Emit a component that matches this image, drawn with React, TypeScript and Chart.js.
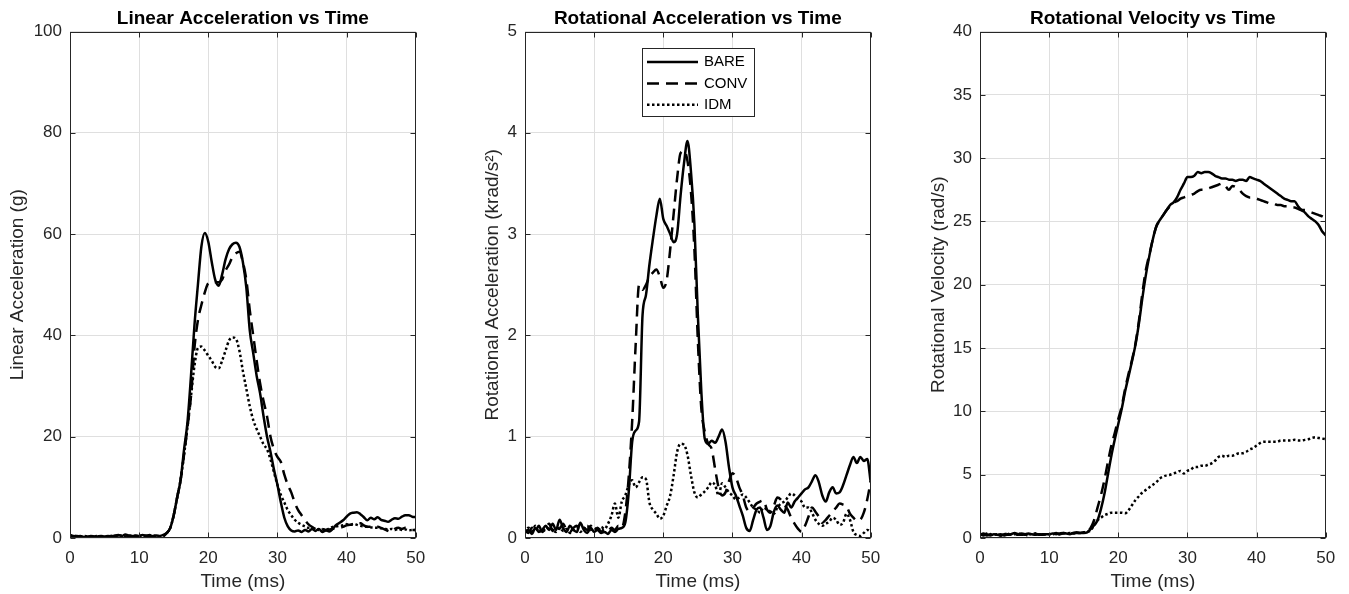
import React, { useEffect, useRef } from "react";
import { Chart, registerables } from "chart.js";

Chart.register(...registerables);

const FONT = '"Liberation Sans", Arial, Helvetica, sans-serif';
const AXIS_COLOR = "#262626";
const GRID_COLOR = "#dfdfdf";

// ---------- data ----------
const TIME = [
  0, 0.5, 1, 1.5, 2, 2.5, 3, 3.5, 4, 4.5,
  5, 5.5, 6, 6.5, 7, 7.5, 8, 8.5, 9, 9.5,
  10, 10.5, 11, 11.5, 12, 12.5, 13, 13.5, 14, 14.5,
  15, 15.5, 16, 16.5, 17, 17.5, 18, 18.5, 19, 19.5,
  20, 20.5, 21, 21.5, 22, 22.5, 23, 23.5, 24, 24.5,
  25, 25.5, 26, 26.5, 27, 27.5, 28, 28.5, 29, 29.5,
  30, 30.5, 31, 31.5, 32, 32.5, 33, 33.5, 34, 34.5,
  35, 35.5, 36, 36.5, 37, 37.5, 38, 38.5, 39, 39.5,
  40, 40.5, 41, 41.5, 42, 42.5, 43, 43.5, 44, 44.5,
  45, 45.5, 46, 46.5, 47, 47.5, 48, 48.5, 49, 49.5,
  50,
];

const SERIES_LABELS = ["BARE", "CONV", "IDM"];
const X_TICKS = [0, 10, 20, 30, 40, 50];

// Linear acceleration (g)
const LIN_BARE = [
  0.6, 0.4, 0.3, 0.4, 0.2, 0.3, 0.3, 0.2, 0.3, 0.4,
  0.3, 0.4, 0.3, 0.5, 0.6, 0.4, 0.7, 0.5, 0.3, 0.5,
  0.4, 0.6, 0.4, 0.6, 0.3, 0.5, 0.4, 0.6, 1.0, 2.0,
  4.5, 8, 11.5, 17.5, 23, 32, 42, 50, 57.5, 60.2,
  58.5, 54.5, 51, 49.8, 52, 55, 57, 58, 58.3, 57.5,
  54.5, 49.5, 41, 36.5, 32, 28.5, 24, 20, 17, 13.5,
  10.5, 7, 4, 2.3, 1.5, 1.3, 1.5, 1.2, 1.6, 1.3,
  1.8, 1.4, 1.8, 1.2, 1.5, 1.3, 1.8, 2.6, 3.0, 3.5,
  4.2, 4.8, 5.0, 5.1, 4.7, 4.1, 3.5, 4.0, 3.7, 4.1,
  3.6, 3.4, 3.2, 3.6, 3.9, 3.8, 4.2, 4.5, 4.5, 4.2,
  4.1,
];
const LIN_CONV = [
  0.5, 0.3, 0.4, 0.3, 0.3, 0.2, 0.4, 0.3, 0.2, 0.3,
  0.4, 0.3, 0.4, 0.3, 0.5, 0.3, 0.5, 0.4, 0.4, 0.3,
  0.5, 0.4, 0.5, 0.3, 0.4, 0.3, 0.5, 0.4, 1.0, 2.0,
  4.5, 8, 11.5, 16.5, 22, 28, 37.5, 43, 46, 48.5,
  50.3, 50.5, 50.5, 50.5, 51, 52.8, 54, 55.5, 56.2, 56.5,
  54.5, 51, 45, 40, 35, 30.5, 27, 24, 20, 17.5,
  16, 15, 12.5, 10.5, 9, 7, 5.5, 4.5, 3.5, 2.7,
  2.2, 1.8, 1.7, 1.8, 1.6, 1.7, 1.8, 1.9, 2.0, 2.2,
  2.5, 2.6, 2.6, 2.9, 2.9, 2.5, 2.2, 2.2, 2.0, 2.2,
  2.0, 1.7, 1.4, 1.2, 1.8, 2.0, 1.8, 2.0, 1.8, 1.6,
  1.6,
];
const LIN_IDM = [
  0.4, 0.5, 0.3, 0.2, 0.4, 0.3, 0.2, 0.3, 0.4, 0.3,
  0.2, 0.3, 0.4, 0.3, 0.4, 0.5, 0.3, 0.4, 0.5, 0.4,
  0.3, 0.5, 0.3, 0.4, 0.5, 0.4, 0.3, 0.5, 1.0, 2.0,
  4.5, 8, 11.5, 16.5, 22, 28, 34, 37.5, 37.8, 37,
  36, 35, 33.8, 33.5, 35, 37, 39, 39.6, 39.3, 37,
  33, 29.5, 26, 23.3, 21.5, 20, 18.5, 17.5, 15.5, 13,
  10.5, 8.5, 7, 5.5, 4.5, 3.6, 3.0, 2.6, 2.3, 2.0,
  2.0, 1.8, 1.6, 1.7, 1.6, 1.9, 2.2, 2.3, 2.4, 2.5,
  2.7, 2.6, 2.8, 2.6, 2.4, 2.3, 2.2, 2.1, 2.0, 2.0,
  1.9, 1.8, 1.7, 1.8, 1.6, 1.8, 1.6, 1.7, 1.5, 1.6,
  1.6,
];
const LIN_TICKS = [0, 20, 40, 60, 80, 100];

// Rotational acceleration (krad/s^2)
const ROT_BARE = [
  0.06, 0.08, 0.04, 0.1, 0.06, 0.08, 0.12, 0.08, 0.14, 0.08,
  0.18, 0.1, 0.06, 0.12, 0.08, 0.06, 0.15, 0.08, 0.05, 0.1,
  0.06, 0.08, 0.05, 0.06, 0.04, 0.08, 0.06, 0.09, 0.1, 0.15,
  0.45, 0.95, 1.06, 1.15, 2.2, 2.4, 2.7, 2.95, 3.18, 3.35,
  3.15, 3.08, 3.0, 2.92, 3.0, 3.38, 3.7, 3.92, 3.62, 3.1,
  2.2, 1.45, 0.98, 0.93, 0.96, 0.94, 1.0, 1.07, 0.95, 0.7,
  0.5, 0.42, 0.32, 0.22, 0.1, 0.07, 0.18, 0.28, 0.3, 0.2,
  0.08, 0.12, 0.26, 0.32, 0.28, 0.25, 0.35, 0.3, 0.36, 0.4,
  0.44, 0.48, 0.5, 0.56, 0.62, 0.55, 0.42, 0.36, 0.45, 0.5,
  0.44, 0.45, 0.52, 0.62, 0.72, 0.8, 0.74, 0.8, 0.76, 0.78,
  0.55,
];
const ROT_CONV = [
  0.08, 0.05, 0.1, 0.07, 0.12, 0.06, 0.1, 0.14, 0.07, 0.12,
  0.09, 0.14, 0.08, 0.06, 0.1, 0.12, 0.07, 0.1, 0.08, 0.12,
  0.07, 0.1, 0.06, 0.09, 0.07, 0.1, 0.08, 0.12, 0.1, 0.25,
  0.6, 1.15, 1.9, 2.5, 2.45, 2.5, 2.58, 2.62, 2.65, 2.58,
  2.47, 2.55, 2.85, 3.2, 3.55, 3.8, 3.82, 3.72, 3.42, 2.85,
  1.95, 1.28, 1.05, 0.93, 0.88, 0.68, 0.5, 0.42, 0.45, 0.56,
  0.64, 0.6, 0.5, 0.42, 0.3, 0.26, 0.3, 0.34, 0.36, 0.37,
  0.28, 0.25, 0.32, 0.4, 0.38, 0.33, 0.28, 0.2, 0.14, 0.09,
  0.06, 0.12, 0.21, 0.3, 0.26, 0.21, 0.15, 0.18, 0.22, 0.26,
  0.3, 0.34, 0.33, 0.31, 0.24, 0.2, 0.17, 0.18, 0.25, 0.38,
  0.56,
];
const ROT_IDM = [
  0.05, 0.1, 0.07, 0.12, 0.06, 0.09, 0.07, 0.11, 0.08, 0.06,
  0.1, 0.07, 0.09, 0.05, 0.08, 0.1, 0.06, 0.09, 0.12, 0.08,
  0.1, 0.07, 0.11, 0.09, 0.14, 0.22, 0.34, 0.2, 0.36, 0.42,
  0.52, 0.57, 0.5, 0.55, 0.6, 0.58, 0.35, 0.28, 0.24, 0.19,
  0.22, 0.32, 0.42, 0.62, 0.85, 0.93, 0.92, 0.82, 0.62, 0.45,
  0.4, 0.43, 0.46, 0.5, 0.55, 0.52, 0.42, 0.54, 0.5, 0.45,
  0.42, 0.38, 0.4, 0.43, 0.4, 0.35, 0.3, 0.28, 0.25, 0.3,
  0.28, 0.26, 0.24, 0.3, 0.34, 0.36, 0.4, 0.44, 0.42, 0.38,
  0.36, 0.3, 0.3, 0.25, 0.18, 0.14, 0.12, 0.14, 0.16, 0.2,
  0.18, 0.13, 0.15, 0.24, 0.18, 0.06, 0.03, 0.02, 0.05, 0.08,
  0.06,
];
const ROT_TICKS = [0, 1, 2, 3, 4, 5];

// Rotational velocity (rad/s)
const VEL_BARE = [
  0.3, 0.2, 0.3, 0.2, 0.3, 0.25, 0.2, 0.3, 0.25, 0.3,
  0.4, 0.3, 0.25, 0.3, 0.35, 0.3, 0.25, 0.3, 0.25, 0.3,
  0.3, 0.35, 0.3, 0.35, 0.4, 0.35, 0.3, 0.4, 0.4, 0.4,
  0.4, 0.45, 0.7, 1.0, 1.4, 2.3, 3.5, 5.0, 6.5, 7.8,
  9.0, 10.2, 11.6, 12.8, 14.0, 15.3, 17.0, 19.0, 20.8, 22.3,
  23.6, 24.6, 25.1, 25.5, 25.9, 26.3, 26.5, 26.9, 27.5, 28.0,
  28.5, 28.5, 28.6, 28.9, 28.8, 28.9, 28.9, 28.8, 28.6, 28.5,
  28.4, 28.4, 28.3, 28.3, 28.2, 28.3, 28.3, 28.2, 28.5, 28.4,
  28.3, 28.2, 28.0, 27.8, 27.6, 27.4, 27.2, 27.0, 26.8, 26.7,
  26.6, 26.6, 26.2, 25.9, 25.7, 25.4, 25.2, 25.0, 24.7, 24.2,
  23.9,
];
const VEL_CONV = [
  0.25, 0.35, 0.2, 0.3, 0.35, 0.25, 0.3, 0.2, 0.3, 0.35,
  0.3, 0.25, 0.35, 0.3, 0.2, 0.3, 0.35, 0.25, 0.3, 0.3,
  0.35, 0.3, 0.4, 0.3, 0.35, 0.4, 0.35, 0.4, 0.45, 0.4,
  0.45, 0.5, 0.8, 1.4, 2.4, 3.4, 4.6, 6.0, 7.3, 8.3,
  9.4, 10.4, 11.8, 13.0, 14.1, 15.4, 17.2, 19.4, 21.2, 22.4,
  23.6, 24.6, 25.1, 25.5, 25.9, 26.2, 26.5, 26.6, 26.8, 26.9,
  27.0, 27.1, 27.2, 27.4, 27.5, 27.5, 27.6, 27.7, 27.8, 27.9,
  28.0, 27.8, 27.5, 27.8, 27.7, 27.5, 27.2, 27.0, 26.9, 26.9,
  26.8, 26.7, 26.6, 26.5, 26.4, 26.4, 26.3, 26.3, 26.2, 26.2,
  26.1, 26.1, 26.0, 25.9, 25.9, 25.8, 25.7, 25.6, 25.5, 25.4,
  25.2,
];
const VEL_IDM = [
  0.3, 0.25, 0.35, 0.3, 0.25, 0.3, 0.2, 0.3, 0.35, 0.25,
  0.3, 0.35, 0.3, 0.25, 0.3, 0.3, 0.35, 0.3, 0.25, 0.3,
  0.3, 0.3, 0.35, 0.3, 0.4, 0.35, 0.4, 0.35, 0.4, 0.4,
  0.45, 0.5, 0.6, 1.0, 1.4, 1.6, 1.8, 1.9, 2.0, 2.0,
  2.0, 2.0, 1.95, 2.2, 2.6, 3.0, 3.3, 3.6, 3.8, 4.0,
  4.2, 4.4, 4.7, 4.85, 4.95, 5.0, 5.1, 5.2, 5.3, 5.1,
  5.3, 5.4, 5.6, 5.6, 5.7, 5.7, 5.8, 5.9, 6.1, 6.4,
  6.5, 6.4, 6.5, 6.5, 6.6, 6.7, 6.7, 6.8, 7.0, 7.1,
  7.3, 7.5, 7.6, 7.6, 7.6, 7.6, 7.6, 7.7, 7.7, 7.7,
  7.7, 7.75, 7.7, 7.7, 7.75, 7.8, 7.9, 7.95, 7.9, 7.85,
  7.8,
];
const VEL_TICKS = [0, 5, 10, 15, 20, 25, 30, 35, 40];

// ---------- styles ----------
const DASHES: number[][] = [[], [12, 7], [2.5, 2.5]];

interface PanelSpec {
  left: number;
  width: number;
  title: string;
  yTitle: string;
  yTitlePad: number;
  yTicks: number[];
  series: number[][];
  legend: boolean;
}

const PANELS: PanelSpec[] = [
  {
    left: 0,
    width: 455,
    title: "Linear Acceleration vs Time",
    yTitle: "Linear Acceleration (g)",
    yTitlePad: 6.6,
    yTicks: LIN_TICKS,
    series: [LIN_BARE, LIN_CONV, LIN_IDM],
    legend: false,
  },
  {
    left: 455,
    width: 455,
    title: "Rotational Acceleration vs Time",
    yTitle: "Rotational Acceleration (krad/s²)",
    yTitlePad: 26.3,
    yTicks: ROT_TICKS,
    series: [ROT_BARE, ROT_CONV, ROT_IDM],
    legend: true,
  },
  {
    left: 910,
    width: 439,
    title: "Rotational Velocity vs Time",
    yTitle: "Rotational Velocity (rad/s)",
    yTitlePad: 16.9,
    yTicks: VEL_TICKS,
    series: [VEL_BARE, VEL_CONV, VEL_IDM],
    legend: false,
  },
];

const CANVAS_H = 594;
const AREA_LEFT = 70;
const AREA_RIGHT = 415.7;
const AREA_BOTTOM = 538;

const framePlugin = {
  id: "matlabFrame",
  afterDatasetsDraw(chart: any) {
    const { ctx, chartArea: a, scales } = chart;
    ctx.save();
    ctx.strokeStyle = AXIS_COLOR;
    ctx.lineWidth = 1;
    ctx.setLineDash([]);
    const L = Math.round(a.left) + 0.5;
    const R = Math.round(a.right) - 0.5;
    const T = Math.round(a.top) + 0.5;
    const B = Math.round(a.bottom) - 0.5;
    ctx.strokeRect(L, T, R - L, B - T);
    const len = 5;
    ctx.beginPath();
    scales.x.ticks.forEach((t: any) => {
      const px = Math.round(scales.x.getPixelForValue(t.value)) + 0.5;
      ctx.moveTo(px, B);
      ctx.lineTo(px, B - len);
      ctx.moveTo(px, T);
      ctx.lineTo(px, T + len);
    });
    scales.y.ticks.forEach((t: any) => {
      const py = Math.round(scales.y.getPixelForValue(t.value)) + 0.5;
      ctx.moveTo(L, py);
      ctx.lineTo(L + len, py);
      ctx.moveTo(R, py);
      ctx.lineTo(R - len, py);
    });
    ctx.stroke();
    ctx.restore();
  },
};

const boxLegendPlugin = {
  id: "boxLegend",
  afterDraw(chart: any, _args: any, opts: any) {
    if (!opts || !opts.show) return;
    const { ctx, chartArea } = chart;
    const x0 = Math.round(chartArea.left + 117);
    const y0 = Math.round(chartArea.top + 16.5);
    const w = 112;
    const h = 68;
    ctx.save();
    ctx.fillStyle = "#ffffff";
    ctx.fillRect(x0, y0, w, h);
    ctx.strokeStyle = AXIS_COLOR;
    ctx.lineWidth = 1;
    ctx.setLineDash([]);
    ctx.strokeRect(x0 + 0.5, y0 + 0.5, w, h);
    chart.data.datasets.forEach((ds: any, i: number) => {
      const y = y0 + 14 + i * 21.4;
      ctx.strokeStyle = "#000";
      ctx.lineWidth = 2.5;
      ctx.lineCap = "butt";
      ctx.setLineDash(DASHES[i]);
      ctx.beginPath();
      ctx.moveTo(x0 + 5, y);
      ctx.lineTo(x0 + 56, y);
      ctx.stroke();
      ctx.setLineDash([]);
      ctx.fillStyle = "#000";
      ctx.font = `15px ${FONT}`;
      ctx.textAlign = "left";
      ctx.textBaseline = "middle";
      ctx.fillText(ds.label, x0 + 62, y);
    });
    ctx.restore();
  },
};

function buildConfig(spec: PanelSpec): any {
  const datasets = spec.series.map((vals, i) => ({
    label: SERIES_LABELS[i],
    data: TIME.map((t, k) => ({ x: t, y: vals[k] })),
    borderColor: "#000000",
    backgroundColor: "#000000",
    borderWidth: 2.5,
    borderDash: DASHES[i],
    borderCapStyle: "butt",
    borderJoinStyle: "round",
    pointRadius: 0,
    fill: false,
    cubicInterpolationMode: "monotone",
  }));
  const yTicks = spec.yTicks;
  return {
    type: "line",
    data: { datasets },
    plugins: [framePlugin, boxLegendPlugin],
    options: {
      animation: false,
      responsive: false,
      maintainAspectRatio: false,
      events: [],
      layout: {
        padding: { left: 0, right: spec.width - AREA_RIGHT, top: 0, bottom: 0 },
      },
      plugins: {
        legend: { display: false },
        tooltip: { enabled: false },
        title: {
          display: true,
          text: spec.title,
          fullSize: false,
          color: "#000000",
          font: { family: FONT, size: 19, weight: "bold" },
          padding: { top: 7.6, bottom: 1.1 },
        },
        boxLegend: { show: spec.legend },
      },
      scales: {
        x: {
          type: "linear",
          min: X_TICKS[0],
          max: X_TICKS[X_TICKS.length - 1],
          afterFit: (s: any) => {
            s.height = CANVAS_H - AREA_BOTTOM;
          },
          afterBuildTicks: (s: any) => {
            s.ticks = X_TICKS.map((v) => ({ value: v }));
          },
          grid: { color: GRID_COLOR, lineWidth: 1, drawTicks: false },
          border: { display: false },
          ticks: {
            color: AXIS_COLOR,
            font: { family: FONT, size: 17 },
            padding: 9.8,
            maxRotation: 0,
            autoSkip: false,
          },
          title: {
            display: true,
            text: "Time (ms)",
            color: AXIS_COLOR,
            font: { family: FONT, size: 19 },
            padding: { top: 0, bottom: 0.6 },
          },
        },
        y: {
          type: "linear",
          min: yTicks[0],
          max: yTicks[yTicks.length - 1],
          afterFit: (s: any) => {
            s.width = AREA_LEFT;
          },
          afterBuildTicks: (s: any) => {
            s.ticks = yTicks.map((v) => ({ value: v }));
          },
          grid: { color: GRID_COLOR, lineWidth: 1, drawTicks: false },
          border: { display: false },
          ticks: {
            color: AXIS_COLOR,
            font: { family: FONT, size: 17 },
            padding: 8,
            autoSkip: false,
          },
          title: {
            display: true,
            text: spec.yTitle,
            color: AXIS_COLOR,
            font: { family: FONT, size: 19 },
            padding: { top: spec.yTitlePad, bottom: 0 },
          },
        },
      },
    },
  };
}

function Panel({ spec }: { spec: PanelSpec }) {
  const ref = useRef<HTMLCanvasElement | null>(null);
  useEffect(() => {
    if (!ref.current) return;
    const chart = new Chart(ref.current, buildConfig(spec));
    return () => chart.destroy();
  }, [spec]);
  return (
    <canvas
      ref={ref}
      width={spec.width}
      height={CANVAS_H}
      style={{
        position: "absolute",
        left: spec.left,
        top: 0,
        width: spec.width,
        height: CANVAS_H,
        display: "block",
      }}
    />
  );
}

export default function App() {
  return (
    <div
      style={{
        position: "absolute",
        left: 0,
        top: 0,
        width: 1349,
        height: CANVAS_H,
        background: "#ffffff",
        overflow: "hidden",
      }}
    >
      {PANELS.map((p) => (
        <Panel key={p.title} spec={p} />
      ))}
    </div>
  );
}
